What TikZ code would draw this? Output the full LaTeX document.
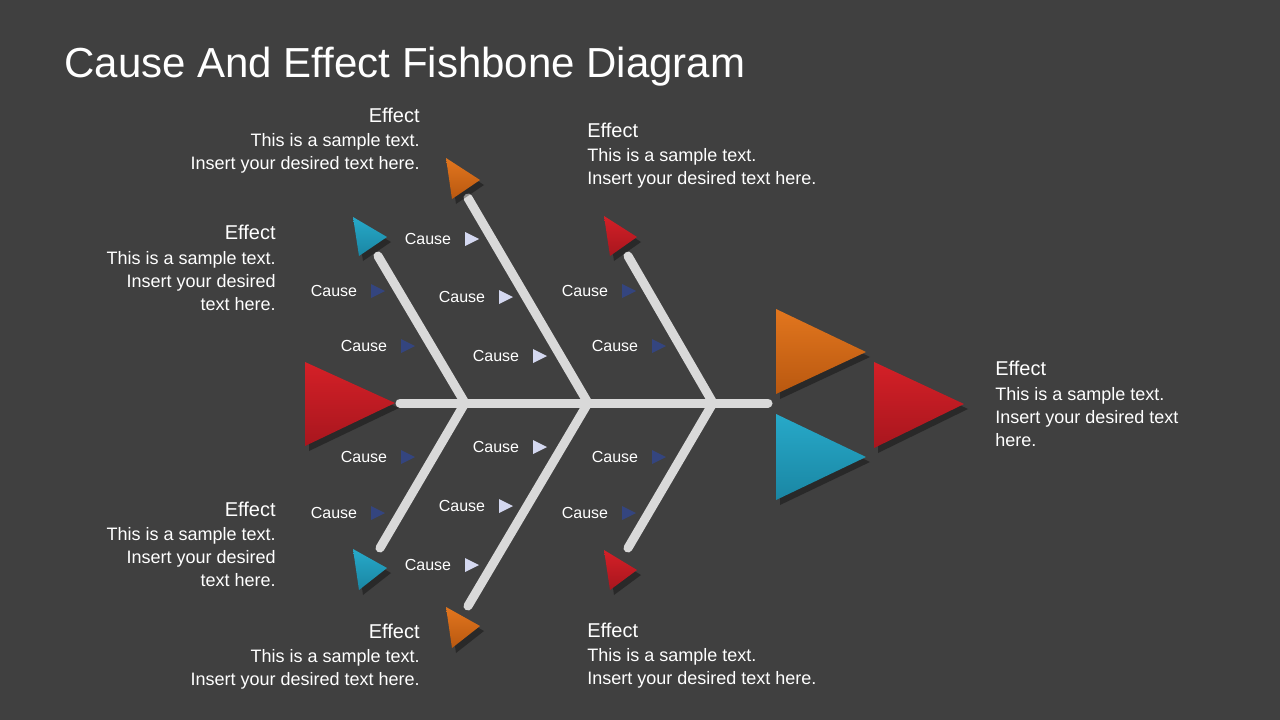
\documentclass[tikz,border=0pt]{standalone}
\usepackage{fontspec}
\setmainfont{Liberation Sans}
\definecolor{bg}{HTML}{404040}
\definecolor{bone}{HTML}{D9D9D9}
\definecolor{ored}{HTML}{D42027}
\definecolor{dred}{HTML}{A8161E}
\definecolor{oorange}{HTML}{E2761E}
\definecolor{dorange}{HTML}{B95810}
\definecolor{oteal}{HTML}{27A9C9}
\definecolor{dteal}{HTML}{1A86A3}
\definecolor{lite}{HTML}{D4D8F0}
\definecolor{dark}{HTML}{34457F}
\tikzset{every picture/.style={line width=0.75pt}}
% triangle: three corners, top colour, bottom colour
\newcommand{\headtri}[5]{%
  \fill [black,opacity=0.35] ([shift={(4,5)}]#1) -- ([shift={(4,5)}]#2) -- ([shift={(4,5)}]#3) -- cycle;
  \shade [top color=#4,bottom color=#5] (#1) -- (#2) -- (#3) -- cycle;}
\newcommand{\cause}[3]{%
  \node [causetext] at (#1,#2) {Cause};
  \fill [#3] (#1+37,#2-7) -- (#1+51,#2) -- (#1+37,#2+7) -- cycle;}
\tikzset{
  bonestyle/.style={draw=bone,line width=9,line cap=round},
  causetext/.style={text=white,font=\fontsize{16}{19}\selectfont,inner sep=0},
  efftitle/.style={text=white,font=\fontsize{20}{24}\selectfont,inner sep=0},
  effbody/.style={text=white,font=\fontsize{18}{23}\selectfont,inner sep=0}
}
\begin{document}
\begin{tikzpicture}[x=1pt,y=-1pt]
\fill [bg] (0,0) rectangle (1280,720);
\useasboundingbox (0,0) rectangle (1280,720);

% title
\node (title) [anchor=west,text=white,font=\fontsize{42}{50}\selectfont,inner sep=0] at (64,67) {Cause And Effect Fishbone Diagram};

% bone joints
\coordinate (spineL) at (400,403);
\coordinate (spineR) at (768,403);
\coordinate (jA) at (465,403);
\coordinate (jB) at (588,403);
\coordinate (jC) at (713,403);
\coordinate (tA) at (378,256);
\coordinate (bA) at (380,548);
\coordinate (tB) at (468,198);
\coordinate (bB) at (468,606);
\coordinate (tC) at (628,256);
\coordinate (bC) at (628,548);

% bones
\draw [bonestyle] (spineL) -- (spineR);
\draw [bonestyle] (tA) -- (jA) -- (bA);
\draw [bonestyle] (tB) -- (jB) -- (bB);
\draw [bonestyle] (tC) -- (jC) -- (bC);

% heads
\headtri{353,217}{387,237}{359,256}{oteal}{dteal}
\headtri{353,549}{387,568}{359,590}{oteal}{dteal}
\headtri{446,158}{480,180}{452,199}{oorange}{dorange}
\headtri{446,607}{480,626}{452,648}{oorange}{dorange}
\headtri{604,216}{637,237}{610,256}{ored}{dred}
\headtri{604,550}{637,570}{610,590}{ored}{dred}
\headtri{305,362}{395,403}{305,446}{ored}{dred}
\headtri{776,309}{866,352}{776,394}{oorange}{dorange}
\headtri{776,414}{866,457}{776,500}{oteal}{dteal}
\headtri{874,362}{964,404}{874,448}{ored}{dred}

% causes
\cause{428}{239}{lite}
\cause{334}{291}{dark}
\cause{462}{297}{lite}
\cause{364}{346}{dark}
\cause{496}{356}{lite}
\cause{585}{291}{dark}
\cause{615}{346}{dark}
\cause{364}{457}{dark}
\cause{496}{447}{lite}
\cause{615}{457}{dark}
\cause{334}{513}{dark}
\cause{462}{506}{lite}
\cause{585}{513}{dark}
\cause{428}{565}{lite}

% effect texts
\node (e1t) [efftitle,anchor=east] at (420,115) {Effect};
\node (e1b) [effbody,anchor=north east,align=right] at (420,133) {This is a sample text.\\Insert your desired text here.};
\node (e2t) [efftitle,anchor=east] at (276,232) {Effect};
\node (e2b) [effbody,anchor=north east,align=right] at (276,251) {This is a sample text.\\Insert your desired\\text here.};
\node (e3t) [efftitle,anchor=east] at (276,509) {Effect};
\node (e3b) [effbody,anchor=north east,align=right] at (276,527) {This is a sample text.\\Insert your desired\\text here.};
\node (e4t) [efftitle,anchor=east] at (420,631) {Effect};
\node (e4b) [effbody,anchor=north east,align=right] at (420,649) {This is a sample text.\\Insert your desired text here.};
\node (e5t) [efftitle,anchor=west] at (587,130) {Effect};
\node (e5b) [effbody,anchor=north west,align=left] at (587,148) {This is a sample text.\\Insert your desired text here.};
\node (e6t) [efftitle,anchor=west] at (587,630) {Effect};
\node (e6b) [effbody,anchor=north west,align=left] at (587,648) {This is a sample text.\\Insert your desired text here.};
\node (e7t) [efftitle,anchor=west] at (995,368) {Effect};
\node (e7b) [effbody,anchor=north west,align=left] at (995,387) {This is a sample text.\\Insert your desired text\\here.};
\end{tikzpicture}
\end{document}
